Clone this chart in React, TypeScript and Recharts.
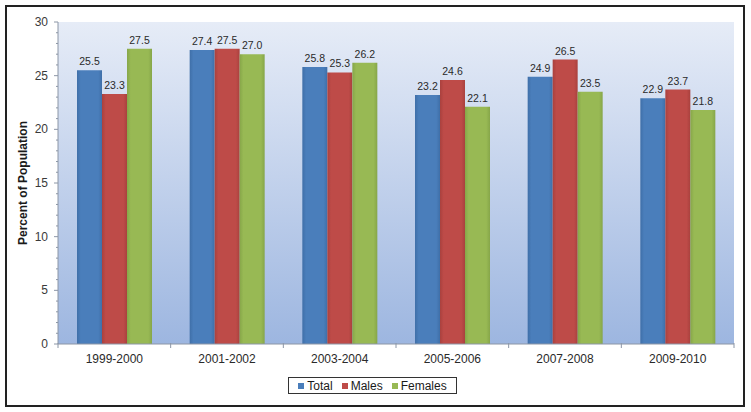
import React from 'react';
import {
  BarChart,
  Bar,
  XAxis,
  YAxis,
  CartesianGrid,
  LabelList,
  Label,
} from 'recharts';

const periods = ['1999-2000', '2001-2002', '2003-2004', '2005-2006', '2007-2008', '2009-2010'];
const totalValues = [25.5, 27.4, 25.8, 23.2, 24.9, 22.9];
const maleValues = [23.3, 27.5, 25.3, 24.6, 26.5, 23.7];
const femaleValues = [27.5, 27.0, 26.2, 22.1, 23.5, 21.8];
const yTicks = Array.from({ length: 31 }, (_, i) => i);

const series = [
  { key: 'total', name: 'Total', color: '#4a7ebb', dark: '#3f6fa8' },
  { key: 'males', name: 'Males', color: '#be4b48', dark: '#a9413e' },
  { key: 'females', name: 'Females', color: '#98b954', dark: '#86a649' },
];

const data = periods.map((period, i) => ({
  period,
  total: totalValues[i],
  males: maleValues[i],
  females: femaleValues[i],
}));

const WIDTH = 751;
const HEIGHT = 412;
const MARGIN = { top: 22, right: 17, left: 0, bottom: 38 };
const Y_AXIS_WIDTH = 58;
const PLOT_WIDTH = WIDTH - MARGIN.left - MARGIN.right - Y_AXIS_WIDTH;
const BAND = PLOT_WIDTH / periods.length;
const FONT = '"Liberation Sans", Arial, sans-serif';

const YTick = (props: any) => {
  const { x, y, payload } = props;
  const major = payload.value % 5 === 0;
  return (
    <g>
      <line x1={major ? x + 4 : x + 6} x2={x + 8} y1={y} y2={y} stroke="#8c96a6" />
      {major && (
        <text x={x - 2} y={y} dy={4} textAnchor="end" fontSize={12} fill="#3a3a3a" fontFamily={FONT}>
          {payload.value}
        </text>
      )}
    </g>
  );
};

const XTick = (props: any) => {
  const { x, y, payload, index } = props;
  const last = index === periods.length - 1;
  return (
    <g>
      <line x1={x - BAND / 2} x2={x - BAND / 2} y1={y - 9} y2={y - 4} stroke="#8c96a6" />
      {last && <line x1={x + BAND / 2} x2={x + BAND / 2} y1={y - 9} y2={y - 4} stroke="#8c96a6" />}
      <text x={x} y={y} dy={11} textAnchor="middle" fontSize={12} fill="#2a2a2a" fontFamily={FONT}>
        {payload.value}
      </text>
    </g>
  );
};

const AxisTitle = (props: any) => {
  const { x, y, height } = props.viewBox;
  const cx = x + 22.5;
  const cy = y + height / 2;
  return (
    <text
      x={cx}
      y={cy}
      transform={`rotate(-90, ${cx}, ${cy})`}
      textAnchor="middle"
      dominantBaseline="central"
      fontSize={12}
      fontWeight="bold"
      fill="#1a1a1a"
      fontFamily={FONT}
    >
      Percent of Population
    </text>
  );
};

const Legend = () => (
  <div
    style={{
      position: 'absolute',
      left: 288,
      top: 377,
      width: 167,
      height: 15,
      border: '1px solid #333',
      display: 'flex',
      alignItems: 'center',
      justifyContent: 'center',
      gap: 9,
      fontFamily: FONT,
      fontSize: 12,
      color: '#1a1a1a',
      background: '#fff',
    }}
  >
    {series.map((s) => (
      <span key={s.key} style={{ display: 'flex', alignItems: 'center' }}>
        <span style={{ width: 6, height: 6, background: s.color, marginRight: 3, display: 'inline-block' }} />
        {s.name}
      </span>
    ))}
  </div>
);

const App = () => {
  return (
    <div style={{ position: 'absolute', left: 0, top: 0, width: WIDTH, height: HEIGHT, background: '#fff' }}>
      <div
        style={{
          position: 'absolute',
          left: 5,
          top: 5,
          width: 740,
          height: 402,
          border: '2px solid #222',
          boxSizing: 'border-box',
        }}
      />
      <div style={{ position: 'absolute', left: 0, top: 0 }}>
        <BarChart width={WIDTH} height={HEIGHT} data={data} margin={MARGIN} barGap={0} barSize={25}>
          <defs>
            <linearGradient id="plotBg" x1="0" y1="0" x2="0" y2="1">
              <stop offset="0%" stopColor="#e6ecf7" />
              <stop offset="100%" stopColor="#9db6e0" />
            </linearGradient>
            {series.map((s) => (
              <linearGradient key={s.key} id={`bar-${s.key}`} x1="0" y1="0" x2="1" y2="0">
                <stop offset="0%" stopColor={s.dark} />
                <stop offset="15%" stopColor={s.color} />
                <stop offset="85%" stopColor={s.color} />
                <stop offset="100%" stopColor={s.dark} />
              </linearGradient>
            ))}
          </defs>
          <CartesianGrid horizontal={false} vertical={false} fill="url(#plotBg)" stroke="none" />
          <XAxis
            dataKey="period"
            interval={0}
            tickLine={false}
            stroke="#8c96a6"
            height={30}
            tick={<XTick />}
          />
          <YAxis
            width={Y_AXIS_WIDTH}
            domain={[0, 30]}
            ticks={yTicks}
            interval={0}
            tickLine={false}
            stroke="#8c96a6"
            tick={<YTick />}
          >
            <Label content={<AxisTitle />} />
          </YAxis>
          {series.map((s) => (
            <Bar key={s.key} dataKey={s.key} name={s.name} fill={`url(#bar-${s.key})`} isAnimationActive={false}>
              <LabelList
                dataKey={s.key}
                position="top"
                offset={5}
                formatter={(v: any) => Number(v).toFixed(1)}
                style={{ fontSize: 10.5, fill: '#2a2a2a', fontFamily: FONT }}
              />
            </Bar>
          ))}
        </BarChart>
      </div>
      <Legend />
    </div>
  );
};

export default App;
